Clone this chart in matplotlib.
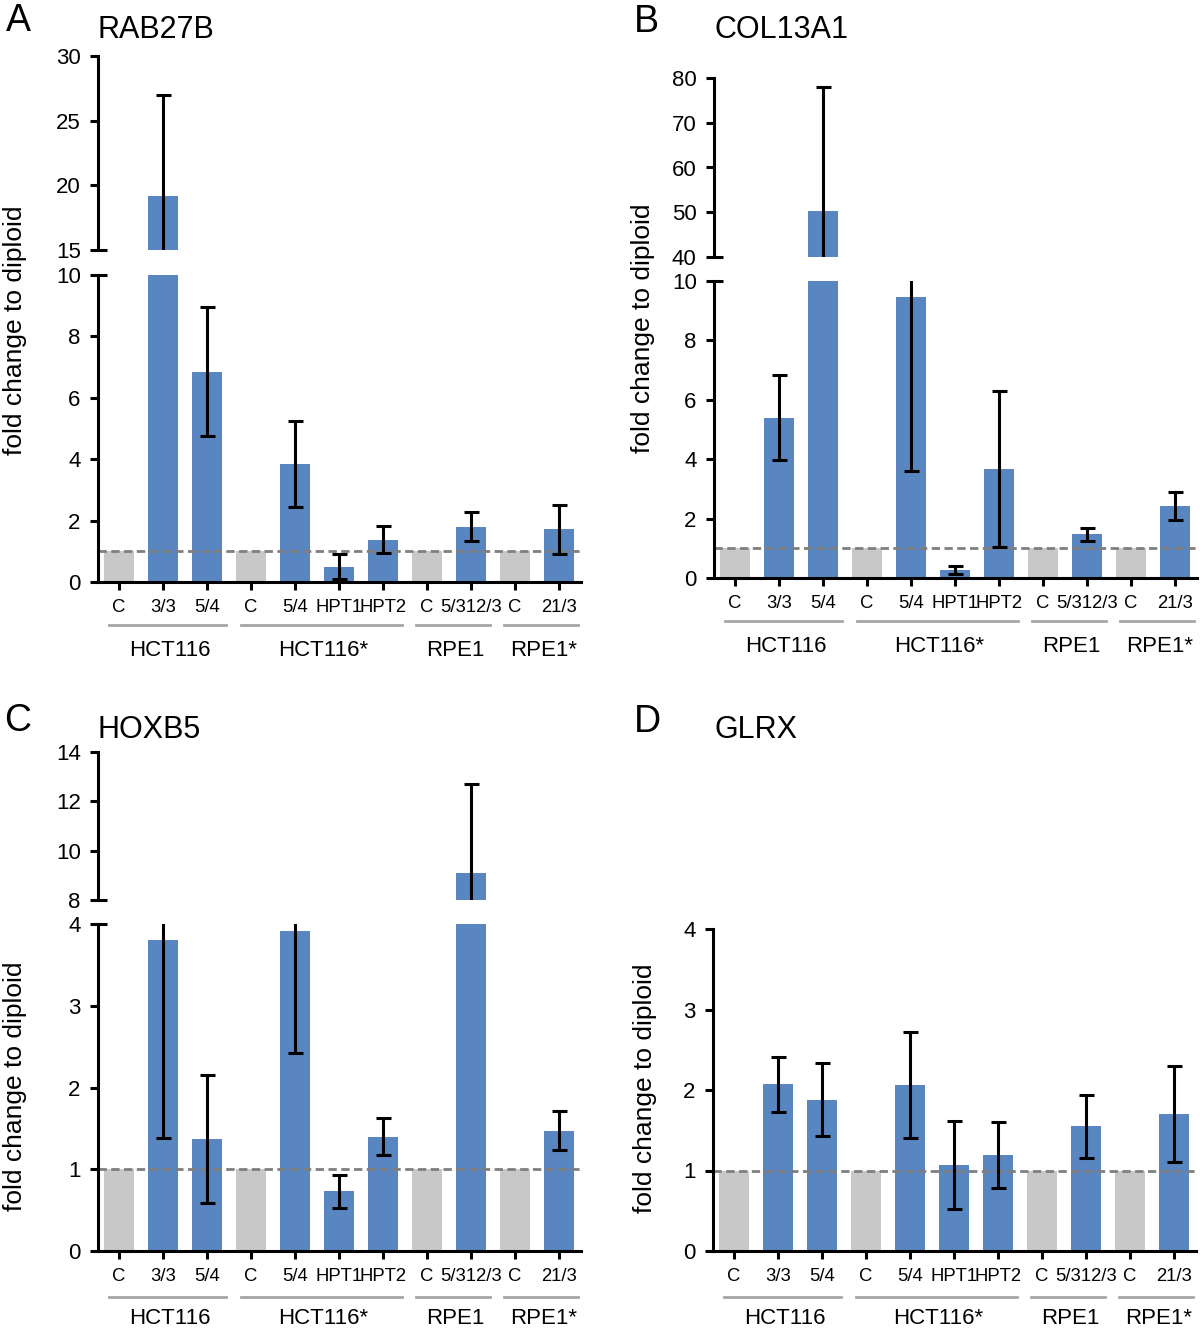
import matplotlib
matplotlib.use('Agg')
import matplotlib.pyplot as plt
from matplotlib.lines import Line2D
from matplotlib.transforms import blended_transform_factory as btf

plt.rcParams['font.family'] = ['Liberation Sans', 'DejaVu Sans']

# ---------------- data ----------------
labels = ['C', '3/3', '5/4', 'C', '5/4', 'HPT1', 'HPT2', 'C', '5/312/3', 'C', '21/3']
is_control = [True, False, False, True, False, False, False, True, False, True, False]
groups = ['HCT116', 'HCT116*', 'RPE1', 'RPE1*']
group_first = [0, 3, 7, 9]
group_last = [2, 6, 8, 10]

rab27b_vals = [1, 19.2, 6.85, 1, 3.85, 0.5, 1.38, 1, 1.8, 1, 1.72]
rab27b_err = [0, 7.8, 2.1, 0, 1.4, 0.4, 0.45, 0, 0.47, 0, 0.8]
col13a1_vals = [1, 5.4, 50.3, 1, 9.45, 0.28, 3.68, 1, 1.48, 1, 2.42]
col13a1_err = [0, 1.43, 27.7, 0, 5.85, 0.13, 2.63, 0, 0.22, 0, 0.47]
hoxb5_vals = [1, 3.8, 1.37, 1, 3.92, 0.73, 1.4, 1, 9.1, 1, 1.47]
hoxb5_err = [0, 2.42, 0.78, 0, 1.5, 0.2, 0.23, 0, 3.6, 0, 0.24]
glrx_vals = [1, 2.07, 1.88, 1, 2.06, 1.07, 1.19, 1, 1.55, 1, 1.7]
glrx_err = [0, 0.34, 0.45, 0, 0.66, 0.55, 0.41, 0, 0.39, 0, 0.6]

BLUE = '#5986c1'
GRAY = '#c8c8c8'
LINEGRAY = '#7f7f7f'
GROUPGRAY = '#a6a6a6'

W, H = 1200, 1332
fig = plt.figure(figsize=(12, 13.32), dpi=100)


def rect(x0, x1, ytop, ybot):
    return [x0 / W, 1 - ybot / H, (x1 - x0) / W, (ybot - ytop) / H]


def fx(px):
    return px / W


def fy(py):
    return 1 - py / H


XLIM = (-0.48, 10.5)
SPINE_LW = 2.2


def style_axis(ax, yticks, ylim, bottom):
    ax.set_xlim(*XLIM)
    ax.set_ylim(*ylim)
    ax.set_yticks(yticks)
    ax.set_yticklabels([str(t) for t in yticks], fontsize=16)
    for s in ['top', 'right']:
        ax.spines[s].set_visible(False)
    ax.spines['left'].set_linewidth(SPINE_LW)
    ax.tick_params(axis='y', direction='out', length=6, width=SPINE_LW, pad=6.5)
    if bottom:
        ax.spines['bottom'].set_linewidth(SPINE_LW)
        ax.set_xticks(range(len(labels)))
        ax.set_xticklabels(labels, fontsize=13.3)
        ax.tick_params(axis='x', direction='out', length=6, width=SPINE_LW, pad=6.5)
    else:
        ax.spines['bottom'].set_visible(False)
        ax.set_xticks([])
    ax.patch.set_alpha(0)


def draw_bars(ax, vals, errs):
    x = list(range(len(vals)))
    colors = [GRAY if c else BLUE for c in is_control]
    ax.bar(x, vals, width=0.68, color=colors, zorder=1)
    ax.axhline(1, color=LINEGRAY, lw=2, ls=(0, (3, 1.6)), zorder=2)
    ex = [i for i in x if not is_control[i]]
    ax.errorbar(ex, [vals[i] for i in ex], yerr=[errs[i] for i in ex], fmt='none',
                ecolor='black', elinewidth=2.2, capsize=5.4, capthick=2.2, zorder=3)


def break_mark(x_spine, y_px):
    fig.add_artist(Line2D([fx(x_spine), fx(x_spine + 9)], [fy(y_px), fy(y_px)],
                          color='black', lw=SPINE_LW, solid_capstyle='butt'))


def draw_panel(vals, errs, x0, x1, low, up, title, letter, letter_xy, title_xy,
               ylab_xy, gline_y, glab_y):
    low_bot, low_top, low_lim, low_ticks = low
    ax = fig.add_axes(rect(x0, x1, low_top, low_bot))
    draw_bars(ax, vals, errs)
    style_axis(ax, low_ticks, low_lim, True)
    if up is not None:
        up_bot, up_top, up_lim, up_ticks = up
        ax2 = fig.add_axes(rect(x0, x1, up_top, up_bot))
        draw_bars(ax2, vals, errs)
        style_axis(ax2, up_ticks, up_lim, False)
        break_mark(x0, low_top)
        break_mark(x0, up_bot)
    # groups
    tr = btf(ax.transData, fig.transFigure)
    for g, a, b in zip(groups, group_first, group_last):
        xa, xb = a - 0.24, min(b + 0.44, XLIM[1])
        ax.add_line(Line2D([xa, xb], [fy(gline_y), fy(gline_y)], transform=tr,
                           color=GROUPGRAY, lw=2, clip_on=False))
        ax.text((xa + xb) / 2 + 0.05, fy(glab_y), g, transform=tr, ha='center',
                va='center', fontsize=16)
    fig.text(fx(letter_xy[0]), fy(letter_xy[1]), letter, fontsize=27,
             ha='left', va='center')
    fig.text(fx(title_xy[0]), fy(title_xy[1]), title, fontsize=22,
             ha='left', va='center')
    fig.text(fx(ylab_xy[0]), fy(ylab_xy[1]), 'fold change to diploid', fontsize=19,
             rotation=90, ha='center', va='center')


draw_panel(rab27b_vals, rab27b_err, 98, 581,
           (582, 275, (0, 10), [0, 2, 4, 6, 8, 10]),
           (250, 56, (15, 30), [15, 20, 25, 30]),
           'RAB27B', 'A', (6, 21), (98, 30), (15, 330), 625, 650)

draw_panel(col13a1_vals, col13a1_err, 714, 1197,
           (578, 281, (0, 10), [0, 2, 4, 6, 8, 10]),
           (257, 78, (40, 80), [40, 50, 60, 70, 80]),
           'COL13A1', 'B', (634, 22), (714, 30), (643, 328), 621, 646)

draw_panel(hoxb5_vals, hoxb5_err, 98, 581,
           (1251, 924, (0, 4), [0, 1, 2, 3, 4]),
           (900, 752, (8, 14), [8, 10, 12, 14]),
           'HOXB5', 'C', (4, 721), (98, 730), (15, 1086), 1297, 1319)

draw_panel(glrx_vals, glrx_err, 713, 1196,
           (1251, 929, (0, 4), [0, 1, 2, 3, 4]),
           None,
           'GLRX', 'D', (634, 722), (715, 730), (645, 1088), 1297, 1319)

fig.savefig('out.png', dpi=100)
